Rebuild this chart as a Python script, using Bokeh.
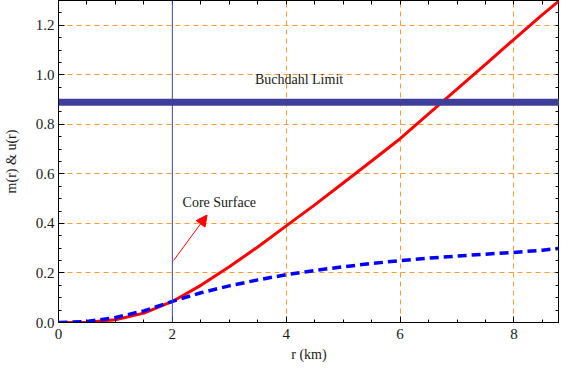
from bokeh.plotting import figure
from bokeh.models import (Range1d, LinearAxis, FixedTicker, Span, Arrow, NormalHead,
                          Label, NumeralTickFormatter)
from bokeh.embed import file_html
from bokeh.resources import INLINE

# data
r_vals = [0, 0.5, 1.0, 1.5, 2.0, 2.5, 3.0, 3.5, 4.0, 4.5, 5.0, 5.5, 6.0, 6.5, 7.0, 7.5, 8.0, 8.5, 8.8]
m_vals = [0, 0.001, 0.011, 0.038, 0.085, 0.15, 0.225, 0.305, 0.39, 0.475, 0.563, 0.652, 0.742,
          0.842, 0.942, 1.042, 1.143, 1.243, 1.30]
u_vals = [0, 0.004, 0.02, 0.047, 0.085, 0.12, 0.148, 0.172, 0.193, 0.21, 0.225, 0.238, 0.25,
          0.26, 0.268, 0.276, 0.283, 0.292, 0.299]
buchdahl = 8 / 9
core_r = 2.0
x_ticks = [0, 2, 4, 6, 8]
y_ticks = [0.0, 0.2, 0.4, 0.6, 0.8, 1.0, 1.2]
x_minor = [i * 0.5 for i in range(18)]
y_minor = [i * 0.05 for i in range(27)]
x_grid = [4, 6, 8]
arrow_start = (2.02, 0.25)
arrow_end = (2.61, 0.434)

FONT = "Liberation Serif"
GRID_C = "#FF9A30"

p = figure(width=559, height=364, output_backend="svg", toolbar_location=None,
           x_range=Range1d(0, 8.8), y_range=Range1d(0, 1.3),
           min_border_left=55, min_border_right=0, min_border_top=0, min_border_bottom=2)
p.outline_line_color = "black"
p.background_fill_color = "white"

for ax in (p.xaxis[0], p.yaxis[0]):
    ax.major_tick_in = 6
    ax.major_tick_out = 0
    ax.minor_tick_in = 3
    ax.minor_tick_out = 0
    ax.axis_line_color = "black"
    ax.major_label_text_font = FONT
    ax.major_label_text_font_size = "15px"
    ax.major_label_text_color = "#1a1a1a"
    ax.axis_label_text_font = FONT
    ax.axis_label_text_font_style = "normal"
    ax.axis_label_text_font_size = "14px"
    ax.axis_label_text_color = "#1a1a1a"

p.xaxis.ticker = FixedTicker(ticks=x_ticks, minor_ticks=x_minor)
p.yaxis.ticker = FixedTicker(ticks=y_ticks, minor_ticks=y_minor)
p.yaxis.formatter = NumeralTickFormatter(format="0.0")
p.xaxis.axis_label = "r (km)"
p.yaxis.axis_label = "m(r) & u(r)"
p.xaxis.major_label_standoff = 6
p.yaxis.major_label_standoff = 4
p.yaxis.axis_label_standoff = 14

# top/right frame ticks: label-free axes that carry only minor ticks
for side, minor in (("above", x_minor), ("right", y_minor)):
    ax = LinearAxis(ticker=FixedTicker(ticks=[], minor_ticks=minor),
                    major_tick_in=0, major_tick_out=0,
                    minor_tick_in=4, minor_tick_out=0, axis_line_color="black",
                    major_label_standoff=0, axis_label_standoff=0)
    p.add_layout(ax, side)

p.xgrid.ticker = FixedTicker(ticks=x_grid)
p.ygrid.ticker = FixedTicker(ticks=y_ticks[1:])
for g in (p.xgrid[0], p.ygrid[0]):
    g.grid_line_color = GRID_C
    g.grid_line_dash = "5 4"
    g.grid_line_width = 1

p.add_layout(Span(location=core_r, dimension="height", line_color="#45459A", line_width=1))
p.add_layout(Span(location=buchdahl, dimension="width", line_color="#3F3F9A", line_width=7))

p.line(r_vals, m_vals, line_color="#FF0000", line_width=3)
p.line(r_vals, u_vals, line_color="#0000FF", line_width=3.5, line_dash="9 5")

p.add_layout(Arrow(end=NormalHead(size=11, fill_color="#FF0000", line_color="#FF0000"),
                   x_start=arrow_start[0], y_start=arrow_start[1],
                   x_end=arrow_end[0], y_end=arrow_end[1],
                   line_color="#FF0000", line_width=1))
p.add_layout(Label(x=2.18, y=0.484, text="Core Surface", text_font=FONT,
                   text_font_size="14px", text_baseline="middle", text_color="#1a1a1a"))
p.add_layout(Label(x=3.45, y=0.98, text="Buchdahl Limit", text_font=FONT,
                   text_font_size="14px", text_baseline="middle", text_color="#1a1a1a"))

open("out.html", "w").write(file_html(p, INLINE))
